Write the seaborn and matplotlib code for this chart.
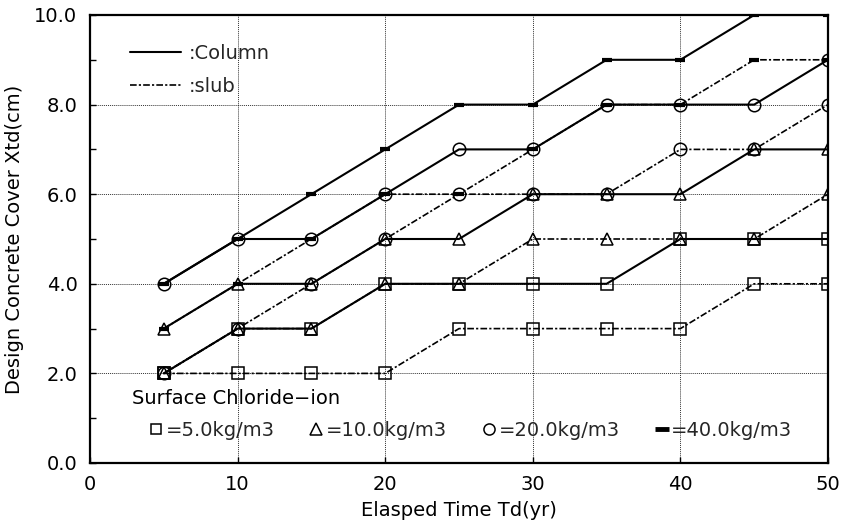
import matplotlib
matplotlib.use("Agg")
import matplotlib.pyplot as plt
from matplotlib.lines import Line2D
import seaborn as sns
import pandas as pd

# ---- data ----
years = [5, 10, 15, 20, 25, 30, 35, 40, 45, 50]
column_5 = [2, 3, 3, 4, 4, 4, 4, 5, 5, 5]
column_10 = [3, 4, 4, 5, 5, 6, 6, 6, 7, 7]
column_20 = [4, 5, 5, 6, 7, 7, 8, 8, 8, 9]
column_40 = [4, 5, 6, 7, 8, 8, 9, 9, 10, 10]
slub_5 = [2, 2, 2, 2, 3, 3, 3, 3, 4, 4]
slub_10 = [2, 3, 3, 4, 4, 5, 5, 5, 5, 6]
slub_20 = [2, 3, 4, 5, 6, 6, 6, 7, 7, 8]
slub_40 = [3, 4, 5, 6, 6, 7, 8, 8, 9, 9]
chloride_labels = ["=5.0kg/m3", "=10.0kg/m3", "=20.0kg/m3", "=40.0kg/m3"]
member_labels = [":Column", ":slub"]
x_ticks = [0, 10, 20, 30, 40, 50]
y_ticks = [0, 2, 4, 6, 8, 10]

series = {
    ("Column", 5): column_5, ("Column", 10): column_10,
    ("Column", 20): column_20, ("Column", 40): column_40,
    ("slub", 5): slub_5, ("slub", 10): slub_10,
    ("slub", 20): slub_20, ("slub", 40): slub_40,
}
rows = []
for (member, cl), vals in series.items():
    for t, v in zip(years, vals):
        rows.append({"member": member, "chloride": cl, "Td": t, "Xtd": v})
df = pd.DataFrame(rows)

sns.set_theme(style="ticks")
plt.rcParams["font.family"] = ["DejaVu Sans"]
plt.rcParams["font.size"] = 14

fig = plt.figure(figsize=(8.44, 5.30), dpi=100)
ax = fig.add_axes([90 / 844, 67 / 530, 738 / 844, 448 / 530])

markers = {5: "s", 10: "^", 20: "o", 40: "_"}
msize = {5: 8, 10: 9, 20: 9, 40: 7}
mew = {5: 1.1, 10: 1.1, 20: 1.1, 40: 3.0}
dashdot = (0, (4, 1.3, 1.3, 1.3))
styles = {"Column": ("-", 1.5), "slub": (dashdot, 1.2)}

for member in ["slub", "Column"]:
    for cl in [5, 10, 20, 40]:
        sub = df[(df.member == member) & (df.chloride == cl)]
        ls, lw = styles[member]
        sns.lineplot(data=sub, x="Td", y="Xtd", ax=ax, color="black",
                     linestyle=ls, linewidth=lw, marker=markers[cl],
                     markersize=msize[cl], markerfacecolor="none",
                     markeredgecolor="black", markeredgewidth=mew[cl],
                     legend=False, zorder=3)

ax.set_xlim(0, 50)
ax.set_ylim(0, 10)
ax.set_xticks(x_ticks)
ax.set_yticks(y_ticks)
ax.set_xticklabels([str(v) for v in x_ticks])
ax.set_yticklabels([f"{v:.1f}" for v in y_ticks])
ax.set_yticks([1, 3, 5, 7, 9], minor=True)
ax.tick_params(axis="both", which="both", direction="in", color="black",
               labelsize=14, labelcolor="black")
ax.tick_params(axis="both", which="major", length=4, width=1, pad=9)
ax.tick_params(axis="y", which="minor", length=4, width=1)
ax.grid(True, which="major", linestyle=(0, (1, 1)), color="black",
        linewidth=0.7, alpha=0.8)
for s in ax.spines.values():
    s.set_visible(True)
    s.set_color("black")
    s.set_linewidth(1.6)
ax.set_facecolor("white")

ax.set_xlabel("Elasped Time Td(yr)", fontsize=14, color="black")
ax.set_ylabel("Design Concrete Cover Xtd(cm)", fontsize=14, color="black")
ax.xaxis.set_label_coords(0.5, -0.085)
ax.yaxis.set_label_coords(-0.09, 0.5)

# member legend (top-left)
h_member = [Line2D([], [], color="black", linestyle="-", linewidth=1.5),
            Line2D([], [], color="black", linestyle=dashdot, linewidth=1.2)]
leg1 = ax.legend(h_member, member_labels, loc="upper left",
                 bbox_to_anchor=(40 / 738, (463 - 44) / 448), frameon=False,
                 borderpad=0, borderaxespad=0, handlelength=2.6,
                 handletextpad=0.4, labelspacing=0.72, fontsize=14)
ax.add_artist(leg1)

# chloride legend (bottom)
ax.text(42 / 738, (463 - 398) / 448, "Surface Chloride\u2212ion",
        transform=ax.transAxes, ha="left", va="center", fontsize=14,
        color="black")
h_cl = [Line2D([], [], color="black", linestyle="none", marker=markers[c],
               markersize=(msize[c] - 1) if c != 40 else 10,
               markerfacecolor="none",
               markeredgewidth=mew[c] if c != 40 else 3.5,
               markeredgecolor="black")
        for c in [5, 10, 20, 40]]
ax.legend(h_cl, chloride_labels, loc="lower left", ncol=4,
          bbox_to_anchor=(58 / 738, (463 - 440) / 448), frameon=False,
          borderpad=0, borderaxespad=0, handlelength=0.8, handletextpad=0.1,
          columnspacing=1.75, fontsize=14)

fig.savefig("out.png", dpi=100, facecolor="white")
